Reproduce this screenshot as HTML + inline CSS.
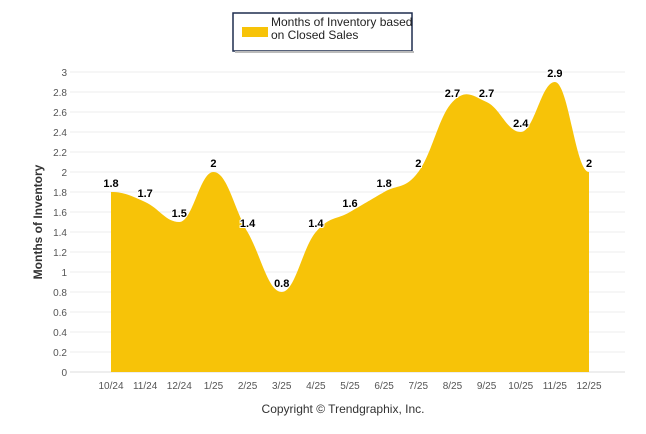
<!DOCTYPE html>
<html><head><meta charset="utf-8"><style>
body{margin:0;background:#fff;font-family:"Liberation Sans",sans-serif}
svg{display:block}
</style></head><body>
<svg width="646" height="434" id="c">
<rect x="233" y="13" width="179" height="38" fill="#fff" stroke="#1f2d4f" stroke-width="1.5"/>
<rect x="235" y="51" width="179" height="2" fill="#bbb"/>
<rect x="242" y="27" width="26" height="10" fill="#F7C308"/>
<text x="271" y="26" font-size="12" fill="#222"><tspan x="271">Months of Inventory based</tspan><tspan x="271" dy="13">on Closed Sales</tspan></text>
<g id="grid"></g>
<path id="area" fill="#F7C308"/>
<g id="labels"></g>
<g id="xl"></g>
<text transform="translate(42,222) rotate(-90)" text-anchor="middle" font-size="12" font-weight="bold" fill="#333">Months of Inventory</text>
<text x="343" y="413" text-anchor="middle" font-size="12" fill="#333">Copyright © Trendgraphix, Inc.</text>
</svg>
<script>
const categories=["10/24","11/24","12/24","1/25","2/25","3/25","4/25","5/25","6/25","7/25","8/25","9/25","10/25","11/25","12/25"];
const values=[1.8,1.7,1.5,2,1.4,0.8,1.4,1.6,1.8,2,2.7,2.7,2.4,2.9,2];
const yTicks=[0,0.2,0.4,0.6,0.8,1,1.2,1.4,1.6,1.8,2,2.2,2.4,2.6,2.8,3];
const NS="http://www.w3.org/2000/svg";
const x0=111,x1=589,yb=372,yt=72;
const X=i=>x0+(x1-x0)*i/(categories.length-1);
const Y=v=>yb-(yb-yt)*v/3;
const grid=document.getElementById('grid');
yTicks.forEach(t=>{
 const l=document.createElementNS(NS,'line');
 l.setAttribute('x1',70);l.setAttribute('x2',625);l.setAttribute('y1',Y(t));l.setAttribute('y2',Y(t));
 l.setAttribute('stroke',t===0?'#ddd':'#eee');
 
 
 grid.appendChild(l);
 const tx=document.createElementNS(NS,'text');
 tx.setAttribute('x',67);tx.setAttribute('y',Y(t)+4);tx.setAttribute('text-anchor','end');
 tx.setAttribute('font-size','10');tx.setAttribute('fill','#555');
 
 
 tx.textContent=String(t);grid.appendChild(tx);
});
const pts=values.map((v,i)=>[X(i),Y(v)]);
const n=pts.length;
const slope=i=>{
 if(i===0||i===n-1)return 0;
 const a=pts[i-1],c=pts[i+1],b=pts[i];
 if((b[1]-a[1])*(b[1]-c[1])>0)return 0; // local extreme: flat
 return (c[1]-a[1])/(c[0]-a[0]);
};
let d=`M${pts[0][0]},${yb}L${pts[0][0]},${pts[0][1]}`;
for(let i=0;i<n-1;i++){
 const p1=pts[i],p2=pts[i+1],dx=(p2[0]-p1[0])*0.4;
 const m1=slope(i),m2=slope(i+1);
 d+=`C${p1[0]+dx},${p1[1]+m1*dx} ${p2[0]-dx},${p2[1]-m2*dx} ${p2[0]},${p2[1]}`;
}
d+=`L${pts[n-1][0]},${yb}Z`;
document.getElementById('area').setAttribute('d',d);
const lg=document.getElementById('labels');
values.forEach((v,i)=>{
 const t=document.createElementNS(NS,'text');
 t.setAttribute('x',X(i));t.setAttribute('y',Y(v)-5);t.setAttribute('text-anchor','middle');
 t.setAttribute('font-size','11');t.setAttribute('font-weight','bold');t.setAttribute('fill','#000');
 t.setAttribute('stroke','#fff');t.setAttribute('stroke-width','2');t.setAttribute('paint-order','stroke');
 
 
 t.textContent=String(v);lg.appendChild(t);
});
const xl=document.getElementById('xl');
categories.forEach((c,i)=>{
 const t=document.createElementNS(NS,'text');
 t.setAttribute('x',X(i));t.setAttribute('y',389);t.setAttribute('text-anchor','middle');
 t.setAttribute('font-size','10');t.setAttribute('fill','#555');
 
 
 t.textContent=c;xl.appendChild(t);
});
</script>
</body></html>
